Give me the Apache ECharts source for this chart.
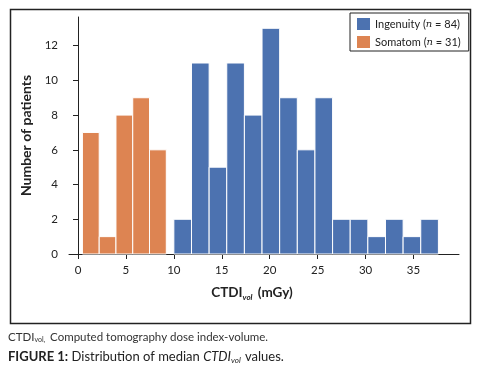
<!DOCTYPE html>
<html>
<head>
<meta charset="utf-8">
<script src="https://cdn.jsdelivr.net/npm/echarts@6/dist/echarts.min.js"></script>
<style>
  html, body { margin: 0; padding: 0; background: #fff; }
  #chart { width: 488px; height: 369px; }
</style>
</head>
<body>
<div id="chart"></div>
<script>
// bin edges (mGy) and counts
const somatomEdges = [0.46, 2.21, 3.96, 5.71, 7.46, 9.21];
const somatomCounts = [7, 1, 8, 9, 6];
const ingenuityEdges = [10.0, 11.84, 13.68, 15.52, 17.36, 19.2, 21.04, 22.88, 24.72, 26.56, 28.4, 30.24, 32.08, 33.92, 35.76, 37.6];
const ingenuityCounts = [2, 11, 5, 11, 8, 13, 9, 6, 9, 2, 2, 1, 2, 1, 2];
const xTicks = [0, 5, 10, 15, 20, 25, 30, 35];
const yTicks = [0, 2, 4, 6, 8, 10, 12];

const FONT = 'Lato';
const BLUE = '#4c72b0';
const ORANGE = '#dd8452';

function toBins(edges, counts) {
  return counts.map((c, i) => [edges[i], edges[i + 1], c]);
}

function renderBar(params, api) {
  const p0 = api.coord([api.value(0), 0]);
  const p1 = api.coord([api.value(1), api.value(2)]);
  return {
    type: 'rect',
    shape: { x: p0[0], y: p1[1], width: p1[0] - p0[0], height: p0[1] - p1[1] },
    style: { fill: api.visual('color'), stroke: '#fff', lineWidth: 1 },
  };
}

const chart = echarts.init(document.getElementById('chart'), null, { renderer: 'canvas' });

const option = {
  animation: false,
  textStyle: { fontFamily: FONT },
  grid: { left: 69, right: 29, top: 17, bottom: 115, containLabel: false },
  legend: {
    orient: 'vertical',
    left: 350,
    top: 13,
    padding: [5, 8, 3, 7],
    itemWidth: 13,
    itemHeight: 12,
    itemGap: 6,
    icon: 'rect',
    borderColor: '#222',
    borderWidth: 1,
    data: ['Ingenuity', 'Somatom'],
    formatter: (name) => name === 'Ingenuity'
      ? 'Ingenuity ({i|n} = 84)'
      : 'Somatom ({i|n} = 31)',
    textStyle: {
      fontFamily: FONT,
      fontSize: 11,
      color: '#222',
      rich: { i: { fontStyle: 'italic', fontFamily: 'DejaVu Serif', fontSize: 10, color: '#222' } },
    },
  },
  xAxis: {
    type: 'value',
    min: -0.94,
    max: 39.75,
    name: 'CTDI{sub|vol} (mGy)',
    nameLocation: 'middle',
    nameGap: 31,
    nameTextStyle: {
      fontFamily: FONT,
      fontSize: 13.5,
      fontWeight: 'bold',
      color: '#222',
      padding: [0, 24, 0, 0],
      rich: { sub: { fontFamily: FONT, fontSize: 8, fontStyle: 'italic', fontWeight: 'bold', color: '#222', verticalAlign: 'bottom', padding: [8, 2, 0, 0] } },
    },
    axisLine: { onZero: false, lineStyle: { color: '#222', width: 1 } },
    axisTick: { show: true, length: 5, lineStyle: { color: '#222' }, customValues: xTicks },
    axisLabel: { fontFamily: FONT, fontSize: 11.5, color: '#222', margin: 10, customValues: xTicks },
    splitLine: { show: false },
  },
  yAxis: {
    type: 'value',
    min: 0,
    max: 13.65,
    name: 'Number of patients',
    nameLocation: 'middle',
    nameGap: 35,
    nameTextStyle: { fontFamily: FONT, fontSize: 14, fontWeight: 'bold', color: '#222' },
    axisLine: { show: true, lineStyle: { color: '#222', width: 1 } },
    axisTick: { show: true, length: 5, lineStyle: { color: '#222' }, customValues: yTicks },
    axisLabel: { fontFamily: FONT, fontSize: 11.5, color: '#222', margin: 11, customValues: yTicks },
    splitLine: { show: false },
  },
  series: [
    {
      name: 'Ingenuity',
      type: 'custom',
      renderItem: renderBar,
      itemStyle: { color: BLUE },
      encode: { x: [0, 1], y: 2 },
      data: toBins(ingenuityEdges, ingenuityCounts),
    },
    {
      name: 'Somatom',
      type: 'custom',
      renderItem: renderBar,
      itemStyle: { color: ORANGE },
      encode: { x: [0, 1], y: 2 },
      data: toBins(somatomEdges, somatomCounts),
    },
  ],
  graphic: [
    {
      type: 'rect',
      left: 8,
      top: 7,
      shape: { width: 460, height: 314 },
      style: { fill: 'none', stroke: '#222', lineWidth: 1.5 },
      silent: true,
    },
    {
      type: 'text',
      left: 8,
      top: 331,
      style: {
        text: 'CTDI{sub|vol,} Computed tomography dose index-volume.',
        fontFamily: FONT,
        fontSize: 11.5,
        fill: '#333',
        rich: { sub: { fontSize: 7, fontFamily: FONT, fill: '#333', verticalAlign: 'bottom', padding: [6, 2, 0, 0] } },
      },
    },
    {
      type: 'text',
      left: 8,
      top: 350,
      style: {
        text: '{b|FIGURE 1:} Distribution of median {it|CTDI}{sub|vol} values.',
        fontFamily: FONT,
        fontSize: 13,
        fill: '#222',
        rich: {
          b: { fontWeight: 'bold', fontFamily: FONT, fontSize: 13, fill: '#222' },
          it: { fontStyle: 'italic', fontFamily: FONT, fontSize: 13, fill: '#222' },
          sub: { fontStyle: 'italic', fontFamily: FONT, fontSize: 8, fill: '#222', verticalAlign: 'bottom', padding: [7, 1, 0, 0] },
        },
      },
    },
  ],
};

chart.setOption(option);
</script>
</body>
</html>
